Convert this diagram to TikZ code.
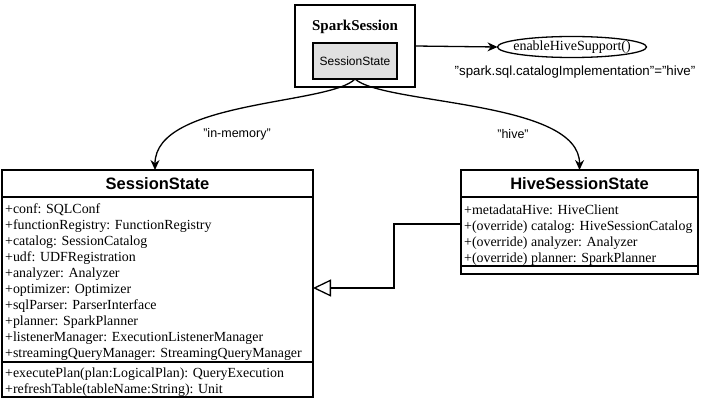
\documentclass[tikz,border=0pt]{standalone}
\usepackage{fontspec}
\setmainfont{Liberation Serif}
\setsansfont{Liberation Sans}
\usetikzlibrary{arrows.meta,shapes.geometric}
\begin{document}
\begin{tikzpicture}[x=1pt,y=-1pt,
  box/.style={draw,line width=1.6pt,inner sep=0pt,outer sep=0pt,anchor=north west},
  attr/.style={anchor=base west,inner sep=0pt,font=\fontsize{13.9}{15}\selectfont},
  head/.style={font=\sffamily\bfseries\fontsize{16.5}{18}\selectfont,inner sep=0pt},
  lbl/.style={font=\sffamily\fontsize{12.5}{14}\selectfont,inner sep=0pt},
  conn/.style={line width=1.3pt,-{Stealth[length=10pt,width=9pt]}},
  inherit/.style={line width=1.3pt,-{Triangle[open,length=18pt,width=17pt,line width=1.3pt]}}
]
\useasboundingbox (0,0) rectangle (701,401);
\fill[white] (0,0) rectangle (701,401);

% SparkSession
\node[box,minimum width=120pt,minimum height=82pt] (spark) at (295,5) {};
\node[font=\bfseries\fontsize{15}{17}\selectfont,inner sep=0pt] (sparkt) at (355,27) {SparkSession};
\node[box,fill=black!12,minimum width=84pt,minimum height=36pt] (inner) at (313,43) {};
\node[font=\sffamily\fontsize{12}{14}\selectfont,inner sep=0pt] (innert) at (inner.center) {SessionState};

% enableHiveSupport
\node[draw,ellipse,line width=1.3pt,minimum width=149pt,minimum height=21pt,inner sep=0pt,outer sep=0pt] (ehs) at (572,47) {};
\node[font=\fontsize{14}{16}\selectfont,inner sep=0pt] (ehst) at (ehs.center) {enableHiveSupport()};
\node[font=\sffamily\fontsize{13.3}{15}\selectfont,inner sep=0pt] (cfg) at (575,72) {"spark.sql.catalogImplementation"="hive"};
\draw[conn] (spark.east |- 0,46) -- (ehs.west);

% SessionState class
\node[box,minimum width=311pt,minimum height=27pt] (sshead) at (2,170) {};
\node[head] (ssheadt) at (sshead.center) {SessionState};
\node[box,minimum width=311pt,minimum height=165pt] (ssattr) at (2,197) {};
\node[box,minimum width=311pt,minimum height=35pt] (ssmeth) at (2,362) {};
\foreach \t [count=\i] in {+conf: SQLConf,
  +functionRegistry: FunctionRegistry,
  +catalog: SessionCatalog,
  +udf: UDFRegistration,
  +analyzer: Analyzer,
  +optimizer: Optimizer,
  +sqlParser: ParserInterface,
  +planner: SparkPlanner,
  +listenerManager: ExecutionListenerManager,
  +streamingQueryManager: StreamingQueryManager}
  \node[attr] (ssa\i) at (5,197+16*\i) {\t};
\node[attr] (ssm1) at (5,377) {+executePlan(plan:LogicalPlan): QueryExecution};
\node[attr] (ssm2) at (5,393) {+refreshTable(tableName:String): Unit};

% HiveSessionState class
\node[box,minimum width=237pt,minimum height=27pt] (hshead) at (461,170) {};
\node[head] (hsheadt) at (hshead.center) {HiveSessionState};
\node[box,minimum width=237pt,minimum height=69pt] (hsattr) at (461,197) {};
\node[box,minimum width=237pt,minimum height=8pt] (hsmeth) at (461,266) {};
\foreach \t [count=\i] in {+metadataHive: HiveClient,
  +(override) catalog: HiveSessionCatalog,
  +(override) analyzer: Analyzer,
  +(override) planner: SparkPlanner}
  \node[attr] (hsa\i) at (464,198+16*\i) {\t};

% connectors
\draw[conn] (inner.south) .. controls (330,105) and (155,100) .. (sshead.north -| 155,0);
\draw[conn] (inner.south) .. controls (384,105) and (580,100) .. (hshead.north);
\node[lbl] (inmem) at (237,134) {"in-memory"};
\node[lbl] (hivel) at (513,134) {"hive"};
\draw[inherit] (hsattr.west |- 0,224) -- (394,224) |- (ssattr.east |- 0,288);
\end{tikzpicture}
\end{document}
